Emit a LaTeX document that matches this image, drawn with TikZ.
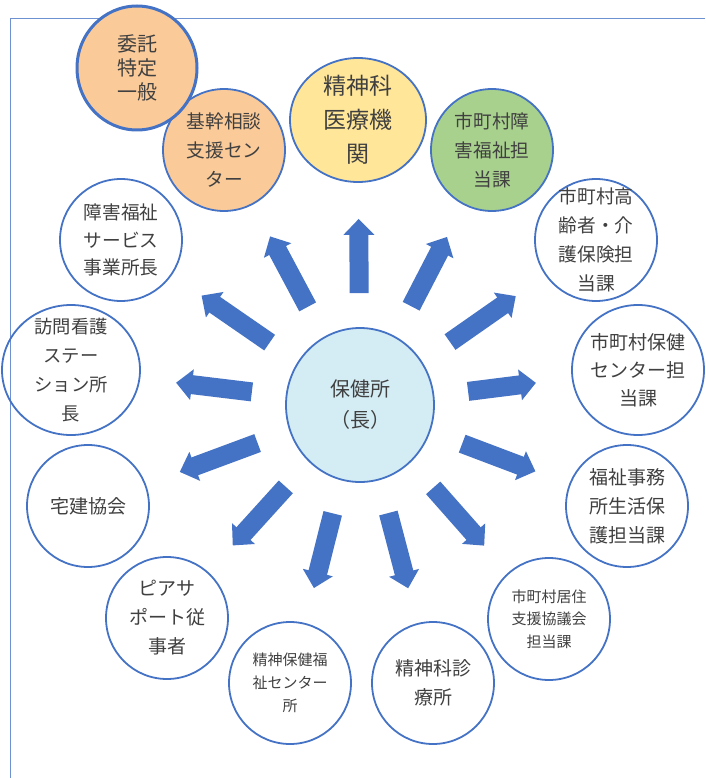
\documentclass[tikz,border=0pt]{standalone}
\usepackage{fontspec}
\usepackage{tikz}
\usetikzlibrary{shapes.geometric,arrows.meta}
\newfontfamily\jp{Noto Sans CJK JP}
\definecolor{line}{RGB}{68,114,196}
\definecolor{frame}{RGB}{110,145,210}
\definecolor{txt}{RGB}{64,64,64}
\definecolor{kikan}{RGB}{250,202,153}
\definecolor{iryo}{RGB}{255,230,153}
\definecolor{shogai}{RGB}{169,209,142}
\definecolor{center}{RGB}{212,236,244}
\newcommand{\fs}[2]{\jp\fontsize{#1}{#2}\selectfont}
\tikzset{
  circ/.style={ellipse, draw=line, line width=1.8pt, inner sep=-20pt, align=center,
    text=txt, minimum width=122pt, minimum height=122pt, font=\fs{18.7}{29}},
  small/.style={font=\fs{15}{23}},
  blk/.style={line width=19pt, draw=line, -{Triangle[length=16pt,width=30pt]},
    shorten <=34pt, shorten >=36pt}
}

\begin{document}
\begin{tikzpicture}[x=1pt,y=-1pt]
\useasboundingbox (0,0) rectangle (705,778);
\draw[frame, line width=1pt] (10.5,778)--(10.5,19)--(705,19);
% outer ring
\node[circ, fill=kikan] (kikan) at (224,150) {基幹相談\\支援セン\\ター};
\node[circ, fill=kikan, line width=3pt, minimum width=120pt, minimum height=124pt, font=\fs{20}{24}] (itaku) at (137,68) {委託\\特定\\一般};
\node[circ, fill=iryo, minimum width=136pt, minimum height=124pt, font=\fs{23}{34}] (iryo) at (358,120) {精神科\\医療機\\関};
\node[circ, fill=shogai] (shogai) at (492,150) {市町村障\\害福祉担\\当課};
\node[circ] (korei) at (596,240) {市町村高\\齢者・介\\護保険担\\当課};
\node[circ, minimum width=132pt, minimum height=130pt, font=\fs{19}{28}] (hoken) at (638,370) {市町村保健\\センター担\\当課};
\node[circ, font=\fs{19}{29}] (fukushi) at (627,506) {福祉事務\\所生活保\\護担当課};
\node[circ, small, font=\fs{15}{22.5}] (kyoju) at (549,619) {市町村居住\\支援協議会\\担当課};
\node[circ, font=\fs{19}{29}] (shinryo) at (433,683) {精神科診\\療所};
\node[circ, small] (seishin) at (290,683) {精神保健福\\祉センター\\所};
\node[circ, font=\fs{19}{29}] (peer) at (167,618) {ピアサ\\ポート従\\事者};
\node[circ, font=\fs{19}{29}] (takken) at (88,506) {宅建協会};
\node[circ, minimum width=138pt, minimum height=130pt, font=\fs{18.3}{29}] (homon) at (71,370) {訪問看護\\ステー\\ション所\\長};
\node[circ, font=\fs{18.7}{27.5}] (service) at (121,240) {障害福祉\\サービス\\事業所長};
% centre
\node[circ, fill=center, minimum width=148pt, minimum height=154pt, font=\fs{20}{31}] (hc) at (360,405) {保健所\\（長）};
\foreach \t in {kikan,iryo,shogai,korei,hoken,fukushi,kyoju,shinryo,seishin,peer,takken,homon,service}
  \draw[blk] (hc) -- (\t);
\end{tikzpicture}
\end{document}
